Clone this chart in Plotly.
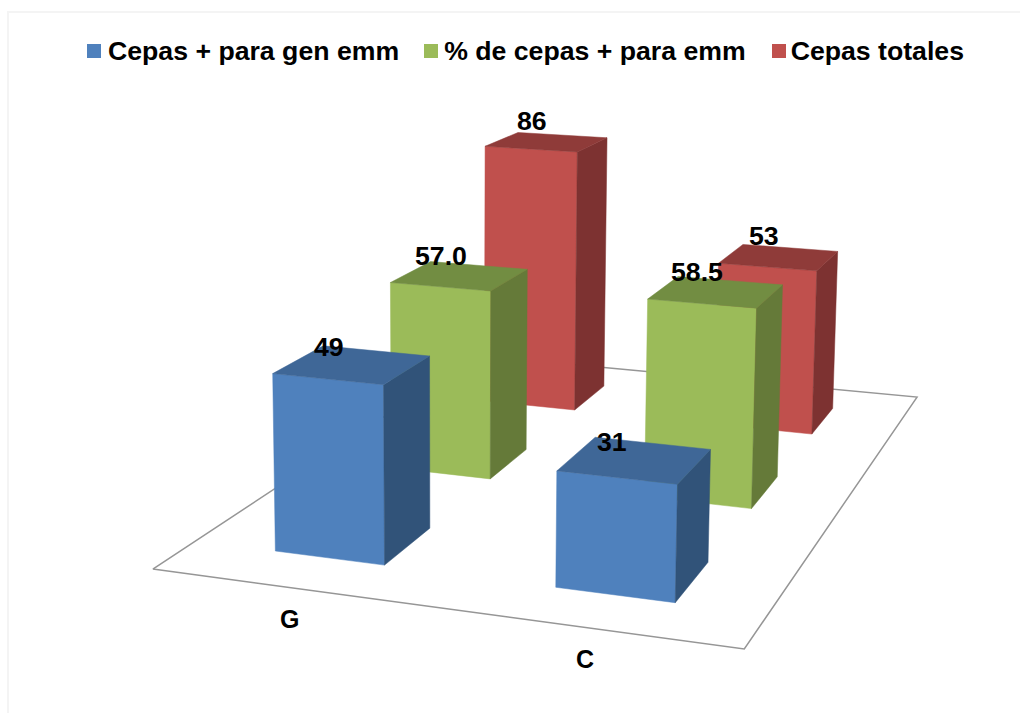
import numpy as np
import plotly.graph_objects as go

categories = ["G", "C"]
series_names = ["Cepas + para gen emm", "% de cepas + para emm", "Cepas totales"]
cepas_positivas = [49, 31]
porcentaje_positivas = [57.0, 58.5]
cepas_totales = [86, 53]
value_labels = [["49", "31"], ["57.0", "58.5"], ["86", "53"]]

front_colors = ["#4F81BD", "#9BBB59", "#C0504D"]
top_colors = ["#3F6797", "#728D42", "#8F3B39"]
side_colors = ["#315379", "#657A39", "#7D3231"]

W, H = 1020, 713
BAR = 0.4  # bar footprint, in category and series units

# Perspective view of the chart box: (category, series, value) -> page pixels.
VIEW = np.array([
    [262.5759, 168.2497, -0.1393486, 152.8507],
    [11.002407, -26.331079, -3.824849, 569.113912],
    [-0.04452935, 0.1262696, -0.0003090548, 1.0],
])

# Label offsets per series row, in pixels from the centre of a bar's top.
LABEL_DX = [-23, -19, -15]
LABEL_DY = [18, 20, 21]
SWATCH_LEFT = [87, 424, 772]
SWATCH_TOP, SWATCH_SIZE = 44, 14


def project(x, y, z):
    h = VIEW @ np.array([x, y, z, 1.0])
    return h[0] / h[2], h[1] / h[2]


def face_path(corners):
    xy = [project(*c) for c in corners]
    xy.append(xy[0])
    return [p[0] for p in xy] + [None], [p[1] for p in xy] + [None]


def add_faces(fig, faces, color):
    xs, ys = [], []
    for corners in faces:
        px, py = face_path(corners)
        xs += px
        ys += py
    fig.add_trace(go.Scatter(x=xs, y=ys, mode="lines", fill="toself", fillcolor=color,
                             line=dict(color=color, width=0.5), showlegend=False, hoverinfo="skip"))


all_values = [cepas_positivas, porcentaje_positivas, cepas_totales]
xcenters = [0.5, 1.5]

fig = go.Figure()
for name in series_names:
    fig.add_trace(go.Scatter(x=[None], y=[None], mode="markers", name=name,
                             marker=dict(symbol="square", size=14, color="rgba(0,0,0,0)")))

floor_x, floor_y = face_path([(0, 0, 0), (2, 0, 0), (2, 3, 0), (0, 3, 0)])
fig.add_trace(go.Scatter(x=floor_x, y=floor_y, mode="lines", line=dict(color="#969696", width=1.5),
                         showlegend=False, hoverinfo="skip"))

# Series are painted from the back row to the front row.
for i in (2, 1, 0):
    fronts, sides, tops = [], [], []
    y0, y1 = i + 0.5 - BAR / 2, i + 0.5 + BAR / 2
    for xc, v in zip(xcenters, all_values[i]):
        x0, x1 = xc - BAR / 2, xc + BAR / 2
        fronts.append([(x0, y0, 0), (x1, y0, 0), (x1, y0, v), (x0, y0, v)])
        sides.append([(x1, y0, 0), (x1, y1, 0), (x1, y1, v), (x1, y0, v)])
        tops.append([(x0, y0, v), (x1, y0, v), (x1, y1, v), (x0, y1, v)])
    add_faces(fig, fronts, front_colors[i])
    add_faces(fig, sides, side_colors[i])
    add_faces(fig, tops, top_colors[i])

annots = []
label_font = dict(family="Liberation Sans", size=26.67, color="black", weight=700)
for i, vals in enumerate(all_values):
    for xc, v, t in zip(xcenters, vals, value_labels[i]):
        px, py = project(xc, i + 0.5, v)
        annots.append(dict(x=px, y=py, xref="x", yref="y", text=t, showarrow=False,
                           xshift=LABEL_DX[i], yshift=LABEL_DY[i], font=label_font))
for xc, t in zip(xcenters, categories):
    px, py = project(xc, 0, 0)
    annots.append(dict(x=px, y=py, xref="x", yref="y", text=t, showarrow=False, xshift=-1, yshift=-31,
                       font=dict(family="Liberation Sans", size=25, color="black", weight=700)))

shapes = [dict(type="rect", xref="paper", yref="paper", x0=8 / W, x1=1.03, y0=-0.03, y1=1 - 12 / H,
               line=dict(color="#F4F4F4", width=2), layer="below")]
for left, color in zip(SWATCH_LEFT, front_colors):
    shapes.append(dict(type="rect", xref="x", yref="y", x0=left, x1=left + SWATCH_SIZE,
                       y0=SWATCH_TOP, y1=SWATCH_TOP + SWATCH_SIZE, fillcolor=color, line=dict(width=0)))

fig.update_layout(
    width=W, height=H, margin=dict(l=0, r=0, t=0, b=0), paper_bgcolor="white", plot_bgcolor="white",
    xaxis=dict(visible=False, range=[0, W]),
    yaxis=dict(visible=False, range=[H, 0]),
    legend=dict(orientation="h", x=68 / W, xanchor="left", y=1 - 26 / H, yanchor="top",
                font=dict(family="Liberation Sans", size=26.67, color="black", weight=700),
                bgcolor="rgba(0,0,0,0)"),
    annotations=annots,
    shapes=shapes,
)
fig.write_html("out.html")
